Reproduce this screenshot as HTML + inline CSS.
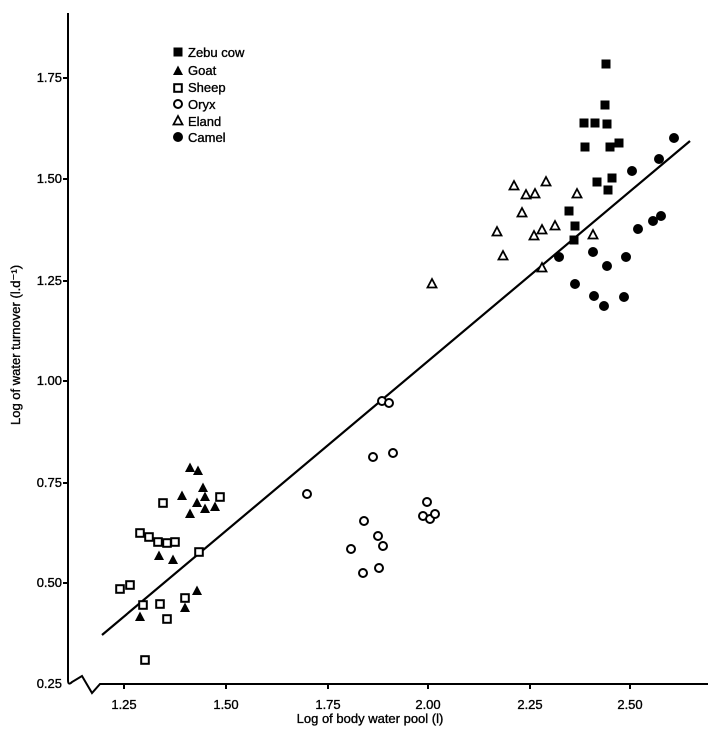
<!DOCTYPE html>
<html><head><meta charset="utf-8"><style>
body{margin:0;background:#fff}
svg{display:block}
text{font-family:"Liberation Sans",sans-serif;font-size:13px;fill:#000;stroke:#000;stroke-width:0.35}
</style></head><body>
<svg width="708" height="730" viewBox="0 0 708 730" xmlns="http://www.w3.org/2000/svg">
<defs>
<rect id="fs" x="-4.5" y="-4.5" width="9" height="9" fill="#000"/>
<rect id="os" x="-3.8" y="-3.8" width="7.6" height="7.6" fill="#fff" stroke="#000" stroke-width="2"/>
<circle id="fc" r="5" fill="#000"/>
<circle id="oc" r="4" fill="#fff" stroke="#000" stroke-width="2"/>
<polygon id="ft" points="0,-5.5 5,4 -5,4" fill="#000"/>
<polygon id="ot" points="0,-5 4.5,3.5 -4.5,3.5" fill="#fff" stroke="#000" stroke-width="1.8"/>
</defs>
<g stroke="#000" stroke-width="2" fill="none">
<path d="M68,13 V680 Q68,686 72,682 L82,676 L92,693 L100,684 H708"/>
<path d="M63,78 H68 M63,179 H68 M63,281 H68 M63,381 H68 M63,483 H68 M63,583 H68"/>
<path d="M124,683 V689 M226,683 V689 M328,683 V689 M428,683 V689 M530,683 V689 M630,683 V689"/>
<path d="M102,635 L690,141" stroke-width="2.2"/>
</g>
<g text-anchor="end">
<text x="62" y="82">1.75</text><text x="62" y="183">1.50</text><text x="62" y="285">1.25</text>
<text x="62" y="385">1.00</text><text x="62" y="487">0.75</text><text x="62" y="587">0.50</text>
<text x="62" y="688">0.25</text>
</g>
<g text-anchor="middle">
<text x="124" y="709">1.25</text><text x="226" y="709">1.50</text><text x="328" y="709">1.75</text>
<text x="428" y="709">2.00</text><text x="530" y="709">2.25</text><text x="630" y="709">2.50</text>
<text x="370" y="723">Log of body water pool (l)</text>
<text transform="translate(20,345) rotate(-90)">Log of water turnover (l.d⁻¹)</text>
</g>
<use href="#fs" x="178" y="52"/><text x="188" y="57">Zebu cow</text>
<use href="#ft" x="178" y="71"/><text x="188" y="75">Goat</text>
<use href="#os" x="178" y="88"/><text x="188" y="92">Sheep</text>
<use href="#oc" x="178" y="104"/><text x="188" y="109">Oryx</text>
<use href="#ot" x="178" y="121"/><text x="188" y="126">Eland</text>
<use href="#fc" x="178" y="137"/><text x="188" y="142">Camel</text>
<g>
<use href="#fs" x="606" y="64"/><use href="#fs" x="605" y="105"/><use href="#fs" x="584" y="123"/><use href="#fs" x="595" y="123"/><use href="#fs" x="607" y="124"/><use href="#fs" x="585" y="147"/><use href="#fs" x="610" y="147"/><use href="#fs" x="619" y="143"/><use href="#fs" x="597" y="182"/><use href="#fs" x="612" y="178"/><use href="#fs" x="608" y="190"/><use href="#fs" x="569" y="211"/><use href="#fs" x="575" y="226"/><use href="#fs" x="574" y="240"/>
<use href="#fc" x="674" y="138"/><use href="#fc" x="659" y="159"/><use href="#fc" x="632" y="171"/><use href="#fc" x="638" y="229"/><use href="#fc" x="653" y="221"/><use href="#fc" x="661" y="216"/><use href="#fc" x="559" y="257"/><use href="#fc" x="593" y="252"/><use href="#fc" x="626" y="257"/><use href="#fc" x="607" y="266"/><use href="#fc" x="575" y="284"/><use href="#fc" x="594" y="296"/><use href="#fc" x="624" y="297"/><use href="#fc" x="604" y="306"/>
<use href="#ot" x="514" y="186"/><use href="#ot" x="546" y="182"/><use href="#ot" x="526" y="195"/><use href="#ot" x="535" y="194"/><use href="#ot" x="577" y="194"/><use href="#ot" x="522" y="213"/><use href="#ot" x="555" y="226"/><use href="#ot" x="542" y="230"/><use href="#ot" x="534" y="236"/><use href="#ot" x="497" y="232"/><use href="#ot" x="503" y="256"/><use href="#ot" x="593" y="235"/><use href="#ot" x="542" y="268"/><use href="#ot" x="432" y="284"/>
<use href="#ft" x="190" y="468"/><use href="#ft" x="198" y="471"/><use href="#ft" x="203" y="488"/><use href="#ft" x="182" y="496"/><use href="#ft" x="205" y="497"/><use href="#ft" x="197" y="503"/><use href="#ft" x="205" y="509"/><use href="#ft" x="215" y="507"/><use href="#ft" x="190" y="514"/><use href="#ft" x="159" y="556"/><use href="#ft" x="173" y="560"/><use href="#ft" x="197" y="591"/><use href="#ft" x="185" y="608"/><use href="#ft" x="140" y="617"/>
<use href="#os" x="163" y="503"/><use href="#os" x="220" y="497"/><use href="#os" x="140" y="533"/><use href="#os" x="149" y="537"/><use href="#os" x="158" y="542"/><use href="#os" x="167" y="543"/><use href="#os" x="175" y="542"/><use href="#os" x="199" y="552"/><use href="#os" x="120" y="589"/><use href="#os" x="130" y="585"/><use href="#os" x="143" y="605"/><use href="#os" x="160" y="604"/><use href="#os" x="185" y="598"/><use href="#os" x="167" y="619"/><use href="#os" x="145" y="660"/>
<use href="#oc" x="382" y="401"/><use href="#oc" x="389" y="403"/><use href="#oc" x="373" y="457"/><use href="#oc" x="393" y="453"/><use href="#oc" x="307" y="494"/><use href="#oc" x="364" y="521"/><use href="#oc" x="427" y="502"/><use href="#oc" x="423" y="516"/><use href="#oc" x="430" y="519"/><use href="#oc" x="435" y="514"/><use href="#oc" x="378" y="536"/><use href="#oc" x="383" y="546"/><use href="#oc" x="351" y="549"/><use href="#oc" x="363" y="573"/><use href="#oc" x="379" y="568"/>
</g>
</svg>
</body></html>
